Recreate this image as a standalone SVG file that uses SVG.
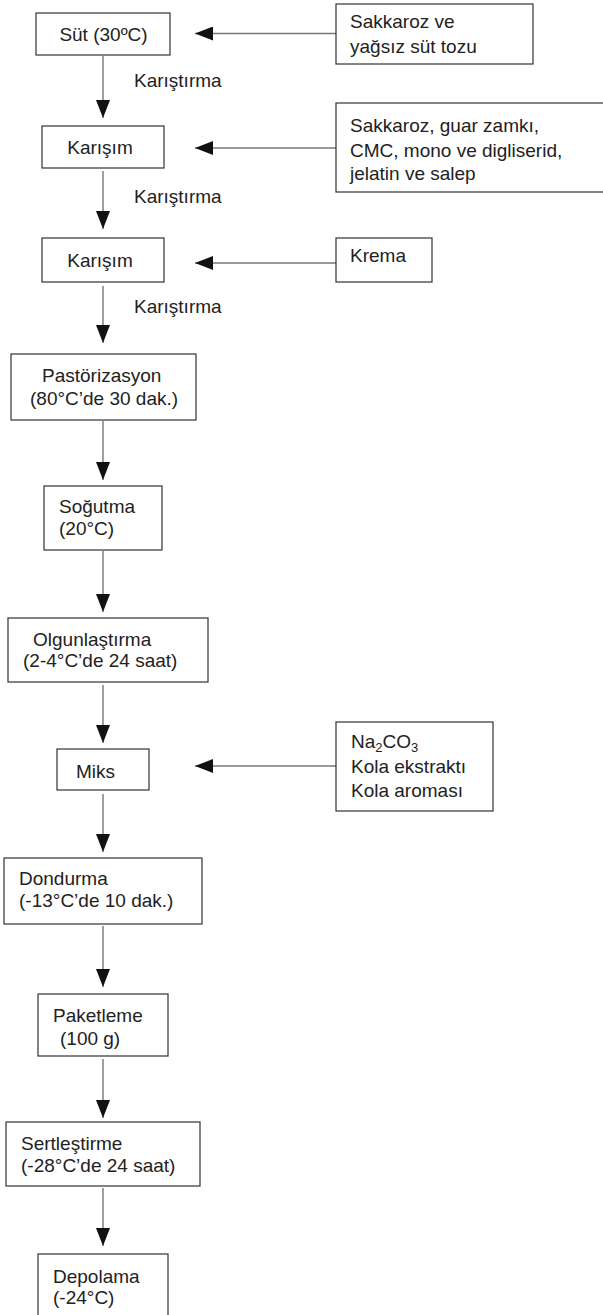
<svg xmlns="http://www.w3.org/2000/svg" width="603" height="1315" viewBox="0 0 603 1315">
<style>
.box{fill:#fff;stroke:#333;stroke-width:1.2}
.t{font-family:"Liberation Sans",Arial,sans-serif;font-size:19px;fill:#222}
.c{stroke:#777;stroke-width:1.4;fill:none;marker-end:url(#ah)}
</style>
<defs>
<marker id="ah" markerUnits="userSpaceOnUse" markerWidth="18" markerHeight="14" refX="18" refY="7" orient="auto">
<path d="M0,0 L18,7 L0,14 z" fill="#111"/>
</marker>
</defs>
<rect width="603" height="1315" fill="#fff"/>
<g id="connectors">
<line class="c" x1="103" y1="56" x2="103" y2="118"/>
<line class="c" x1="103" y1="171" x2="103" y2="229"/>
<line class="c" x1="103" y1="286" x2="103" y2="343"/>
<line class="c" x1="103" y1="421" x2="103" y2="480"/>
<line class="c" x1="103" y1="551" x2="103" y2="612"/>
<line class="c" x1="103" y1="685" x2="103" y2="743"/>
<line class="c" x1="103" y1="794" x2="103" y2="852"/>
<line class="c" x1="103" y1="926" x2="103" y2="987"/>
<line class="c" x1="103" y1="1059" x2="103" y2="1118"/>
<line class="c" x1="103" y1="1188" x2="103" y2="1246"/>
<line class="c" x1="336" y1="33.5" x2="195" y2="33.5"/>
<line class="c" x1="336" y1="148" x2="195" y2="148"/>
<line class="c" x1="336" y1="263" x2="195" y2="263"/>
<line class="c" x1="336" y1="766" x2="195" y2="766"/>
<text class="t" x="134" y="87">Karıştırma</text>
<text class="t" x="134" y="203">Karıştırma</text>
<text class="t" x="134" y="313">Karıştırma</text>
</g>
<g id="sut"><rect class="box" x="36" y="13" width="134" height="42"/><text class="t" x="103.5" y="41" text-anchor="middle">Süt (30ºC)</text></g>
<g id="karisim1"><rect class="box" x="42" y="126" width="122" height="42"/><text class="t" x="100" y="154" text-anchor="middle">Karışım</text></g>
<g id="karisim2"><rect class="box" x="42" y="238" width="122" height="44"/><text class="t" x="100" y="267" text-anchor="middle">Karışım</text></g>
<g id="pastorizasyon"><rect class="box" x="11" y="354" width="185" height="66"/><text class="t" x="42" y="382">Pastörizasyon</text><text class="t" x="30" y="405">(80°C’de 30 dak.)</text></g>
<g id="sogutma"><rect class="box" x="44" y="486" width="118" height="64"/><text class="t" x="59" y="513">Soğutma</text><text class="t" x="59" y="535">(20°C)</text></g>
<g id="olgunlastirma"><rect class="box" x="8" y="618" width="200" height="64"/><text class="t" x="33" y="646">Olgunlaştırma</text><text class="t" x="23" y="667">(2-4°C’de 24 saat)</text></g>
<g id="miks"><rect class="box" x="57" y="749" width="92" height="41"/><text class="t" x="76" y="778">Miks</text></g>
<g id="dondurma"><rect class="box" x="4" y="858" width="198" height="66"/><text class="t" x="19" y="885">Dondurma</text><text class="t" x="19" y="907">(-13°C’de 10 dak.)</text></g>
<g id="paketleme"><rect class="box" x="38" y="994" width="130" height="62"/><text class="t" x="53" y="1022">Paketleme</text><text class="t" x="60" y="1045">(100 g)</text></g>
<g id="sertlestirme"><rect class="box" x="6" y="1122" width="194" height="64"/><text class="t" x="21" y="1150">Sertleştirme</text><text class="t" x="21" y="1172">(-28°C’de 24 saat)</text></g>
<g id="depolama"><rect class="box" x="38" y="1254" width="130" height="70"/><text class="t" x="53" y="1283">Depolama</text><text class="t" x="53" y="1304">(-24°C)</text></g>
<g id="in1"><rect class="box" x="336" y="4" width="197" height="60"/><text class="t" x="350" y="28">Sakkaroz ve</text><text class="t" x="350" y="53">yağsız süt tozu</text></g>
<g id="in2"><rect class="box" x="336" y="103" width="270" height="89"/><text class="t" x="350" y="132">Sakkaroz, guar zamkı,</text><text class="t" x="350" y="157">CMC, mono ve digliserid,</text><text class="t" x="350" y="180">jelatin ve salep</text></g>
<g id="in3"><rect class="box" x="336" y="238" width="96" height="44"/><text class="t" x="350" y="262">Krema</text></g>
<g id="in4"><rect class="box" x="336" y="722" width="157" height="89"/><text class="t" x="351" y="748">Na<tspan font-size="13" dy="4">2</tspan><tspan dy="-4">CO</tspan><tspan font-size="13" dy="4">3</tspan></text><text class="t" x="351" y="773">Kola ekstraktı</text><text class="t" x="351" y="797">Kola aroması</text></g>
</svg>
